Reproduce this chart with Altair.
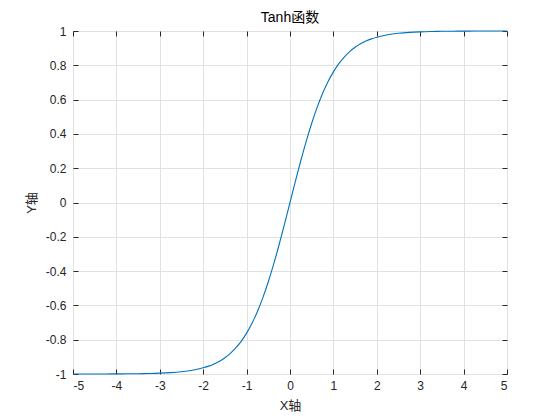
import altair as alt
import pandas as pd

# values
xs = [-5.0, -4.75, -4.5, -4.25, -4.0, -3.75, -3.5, -3.25, -3.0, -2.75, -2.5, -2.25,
      -2.0, -1.875, -1.75, -1.625, -1.5, -1.375, -1.25, -1.125, -1.0, -0.875, -0.75,
      -0.625, -0.5, -0.375, -0.25, -0.125, 0.0, 0.125, 0.25, 0.375, 0.5, 0.625, 0.75,
      0.875, 1.0, 1.125, 1.25, 1.375, 1.5, 1.625, 1.75, 1.875, 2.0, 2.25, 2.5, 2.75,
      3.0, 3.25, 3.5, 3.75, 4.0, 4.25, 4.5, 4.75, 5.0]
ys = [-0.9999, -0.9998, -0.9998, -0.9996, -0.9993, -0.9989, -0.9982, -0.9970, -0.9951,
      -0.9919, -0.9866, -0.9780, -0.9640, -0.9541, -0.9414, -0.9258, -0.9051, -0.8799,
      -0.8483, -0.8096, -0.7616, -0.7039, -0.6351, -0.5546, -0.4621, -0.3584, -0.2449,
      -0.1244, 0.0, 0.1244, 0.2449, 0.3584, 0.4621, 0.5546, 0.6351, 0.7039, 0.7616,
      0.8096, 0.8483, 0.8799, 0.9051, 0.9258, 0.9414, 0.9541, 0.9640, 0.9780, 0.9866,
      0.9919, 0.9951, 0.9970, 0.9982, 0.9989, 0.9993, 0.9996, 0.9998, 0.9998, 0.9999]
x_ticks = [-5, -4, -3, -2, -1, 0, 1, 2, 3, 4, 5]
y_ticks = [-1, -0.8, -0.6, -0.4, -0.2, 0, 0.2, 0.4, 0.6, 0.8, 1]

df = pd.DataFrame({"x": xs, "y": ys})

FONT = "Liberation Sans, Noto Sans CJK SC"
GRID = "#e1e1e1"
AX = "#808080"
TXT = "#262626"

xscale = alt.Scale(domain=[-5, 5], nice=False, zero=False)
yscale = alt.Scale(domain=[-1, 1], nice=False, zero=False)

common = dict(domain=False, tickColor=TXT, tickSize=5, offset=-5,
              labelFont=FONT, labelFontSize=12, labelColor=TXT,
              labelExpr="toString(datum.value)")

main = alt.Chart(df).mark_line(color="#0072BD", strokeWidth=1.1, interpolate="monotone").encode(
    x=alt.X("x:Q", scale=xscale,
            axis=alt.Axis(values=x_ticks, title="X轴", grid=True, gridColor=GRID,
                          labelPadding=6, titleFont=FONT, titleFontSize=13,
                          titleFontWeight="normal", titleColor=TXT, titlePadding=8,
                          **common)),
    y=alt.Y("y:Q", scale=yscale,
            axis=alt.Axis(values=y_ticks, title="Y轴", grid=True, gridColor=GRID,
                          labelPadding=7, titleFont=FONT, titleFontSize=13,
                          titleFontWeight="normal", titleColor=TXT, titlePadding=7,
                          **common)),
)

frame = alt.Chart(df).mark_line(opacity=0).encode(
    x=alt.X("x:Q", scale=xscale,
            axis=alt.Axis(orient="top", values=x_ticks, title=None, labels=False,
                          grid=False, domain=False, tickColor=TXT, tickSize=5, offset=-5)),
    y=alt.Y("y:Q", scale=yscale,
            axis=alt.Axis(orient="right", values=y_ticks, title=None, labels=False,
                          grid=False, domain=False, tickColor=TXT, tickSize=5, offset=-5)),
)

chart = alt.layer(main, frame).resolve_axis(x="independent", y="independent").properties(
    width=434, height=343,
    title=alt.TitleParams("Tanh函数", font=FONT, fontSize=14, fontWeight="normal",
                          color="#000000", anchor="middle", offset=0),
    autosize=alt.AutoSizeParams(type="none"),
    padding={"left": 65, "top": 23, "right": 30, "bottom": 40},
).configure_view(stroke=AX, strokeWidth=2).configure(background="white")

chart.save("out.html", embed_options={"renderer": "svg", "actions": False})
